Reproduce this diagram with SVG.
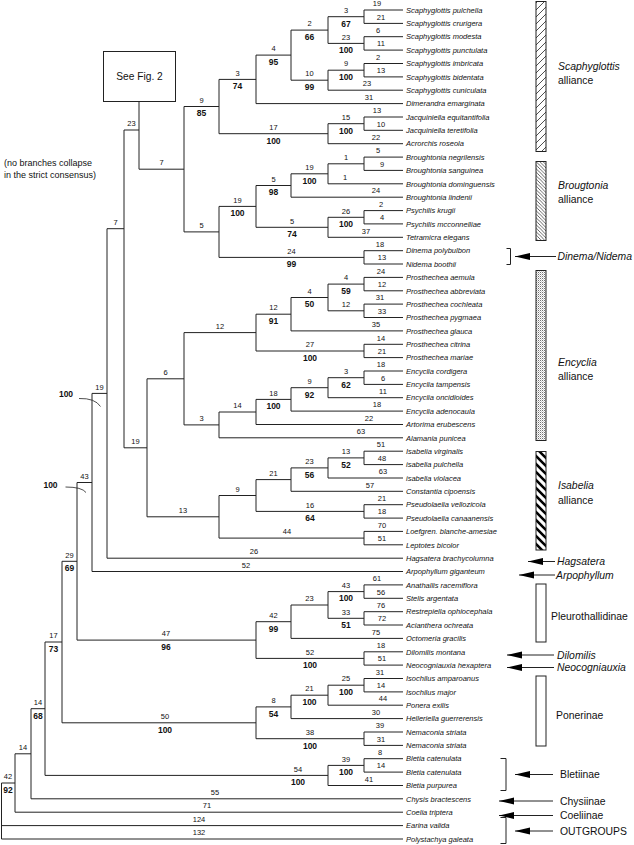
<svg xmlns="http://www.w3.org/2000/svg" width="634" height="845" viewBox="0 0 634 845">
<style>
.br{stroke:#222;stroke-width:1;fill:none}
text{font-family:"Liberation Sans",Arial,sans-serif;fill:#111}
.tx{font-style:italic;font-size:7.5px}
.n{font-size:7.5px;text-anchor:middle}
.b{font-size:8.5px;font-weight:bold;text-anchor:middle}
.r{font-size:10.4px}
.ri{font-size:10.4px;font-style:italic}
.bar{stroke:#222;stroke-width:1}
.ar{stroke:#222;stroke-width:1;fill:none;marker-end:url(#ah)}
</style>
<defs>
<marker id="ah" markerUnits="userSpaceOnUse" markerWidth="16" markerHeight="8" refX="15" refY="3.5" orient="auto"><path d="M0,0L15,3.5L0,7z" fill="#000"/></marker>
<pattern id="pS" patternUnits="userSpaceOnUse" width="7" height="7"><path d="M-1,8L8,-1M-1,1L1,-1M6,8L8,6" stroke="#222" stroke-width="0.8"/></pattern>
<pattern id="pB" patternUnits="userSpaceOnUse" width="3.5" height="3.5"><path d="M-1,-1L4.5,4.5M2.5,-1L4.5,1M-1,2.5L1,4.5" stroke="#222" stroke-width="0.7"/></pattern>
<pattern id="pE" patternUnits="userSpaceOnUse" width="2" height="2"><rect width="2" height="2" fill="#fff"/><circle cx="0.5" cy="0.5" r="0.55" fill="#666"/><circle cx="1.5" cy="1.5" r="0.4" fill="#888"/></pattern>
<pattern id="pI" patternUnits="userSpaceOnUse" width="8" height="8"><path d="M-2,-2L10,10M6,-2L10,2M-2,6L2,10" stroke="#000" stroke-width="2.6"/></pattern>
</defs>
<rect width="634" height="845" fill="#fff"/>

<g id="connectors" class="br">
<path d="M364,10H403M364,23.4H403M364,36.7H403M364,50.1H403M364,63.5H403M364,76.9H403M328,90.2H403M256,103.6H403M364,117H403M364,130.3H403M328,143.7H403
M364,10V23.4M364,36.7V50.1M328,16.7V43.4M364,63.5V76.9M328,70.2V90.2M291,30.1V80.2M256,55.1V103.6M364,117V130.3M328,123.7V143.7M219,79.4V133.7
M328,16.7H364M328,43.4H364M291,30.1H328M328,70.2H364M291,80.2H328M256,55.1H291M219,79.4H256M328,123.7H364M219,133.7H328M184,106.5H219"/>
<path d="M364,157.1H403M364,170.4H403M328,183.8H403M291,197.2H403M364,210.6H403M364,223.9H403M328,237.3H403M364,250.7H403M364,264H403
M364,157.1V170.4M328,163.8V183.8M291,173.8V197.2M364,210.6V223.9M328,217.3V237.3M256,185.5V227.3M364,250.7V264M219,206.4V257.4M184,106.5V231.9
M328,163.8H364M291,173.8H328M256,185.5H291M328,217.3H364M256,227.3H328M219,206.4H256M219,257.4H364M184,231.9H219M139,169.2H184"/>
<path d="M139,101.3V169.2M124,130H139"/>
<path d="M364,277.4H403M364,290.8H403M364,304.1H403M364,317.5H403M291,330.9H403M364,344.3H403M364,357.6H403
M364,277.4V290.8M364,304.1V317.5M328,284.1V310.8M291,297.5V330.9M364,344.3V357.6M256,314.2V351
M328,284.1H364M328,310.8H364M291,297.5H328M256,314.2H291M256,351H364M184,332.6H256"/>
<path d="M364,371H403M364,384.4H403M328,397.7H403M291,411.1H403M256,424.5H403M219,437.8H403
M364,371V384.4M328,377.7V397.7M291,387.7V411.1M256,399.4V424.5M219,412V437.8M184,332.6V424.9
M328,377.7H364M291,387.7H328M256,399.4H291M219,412H256M184,424.9H219M147,378.8H184"/>
<path d="M364,451.2H403M364,464.6H403M328,478H403M291,491.3H403M364,504.7H403M364,518.1H403M364,531.4H403M364,544.8H403
M364,451.2V464.6M328,457.9V478M291,467.9V491.3M364,504.7V518.1M256,479.6V511.4M364,531.4V544.8M219,495.5V538.1M147,378.8V516.8
M328,457.9H364M291,467.9H328M256,479.6H291M256,511.4H364M219,495.5H256M219,538.1H364M147,516.8H219M124,447.8H147"/>
<path d="M124,130V447.8M107,228.7H124M107,228.7V558.2M107,558.2H403M92,393.4H107M92,393.4V571.5M92,571.5H403M77,482.5H92M77,482.5V640.1M77,640.1H256"/>
<path d="M364,584.9H403M364,598.3H403M364,611.7H403M364,625H403M291,638.4H403M364,651.8H403M364,665.1H403
M364,584.9V598.3M364,611.7V625M328,591.6V618.3M291,605V638.4M364,651.8V665.1M256,621.7V658.4
M328,591.6H364M328,618.3H364M291,605H328M256,621.7H291M256,658.4H364"/>
<path d="M62,561.3H77M62,561.3V722.8M62,722.8H256"/>
<path d="M364,678.5H403M364,691.9H403M328,705.2H403M291,718.6H403M364,732H403M364,745.4H403
M364,678.5V691.9M328,685.2V705.2M291,695.2V718.6M364,732V745.4M256,706.9V738.7
M328,685.2H364M291,695.2H328M256,706.9H291M256,738.7H364"/>
<path d="M45,642H62M45,642V775.4M45,775.4H328M364,758.7H403M364,772.1H403M328,785.5H403M364,758.7V772.1M328,765.4V785.5M328,765.4H364"/>
<path d="M31,708.7H45M31,708.7V798.8M31,798.8H403M15,753.8H31M15,753.8V812.2M15,812.2H403M1.5,783H15M1.5,783V839M1.5,825.6H403M1.5,839H403"/>
<path d="M79,398.5Q95,398 100.5,406.5M65.5,487Q82,487 86,492.5" stroke-width="0.8"/>
</g>

<g id="seefig2">
<rect x="103.5" y="51.5" width="72" height="50" fill="#fff" stroke="#222" stroke-width="1"/>
<text x="139.5" y="80.3" font-size="10.2" text-anchor="middle">See Fig. 2</text>
</g>
<g id="note">
<text x="4" y="166" font-size="9">(no branches collapse</text>
<text x="4" y="177.5" font-size="9">in the strict consensus)</text>
</g>

<g id="branch-labels">
<g class="n">
<text x="377" y="6.2">19</text><text x="381" y="19.6">21</text><text x="378" y="32.9">6</text><text x="381" y="46.3">11</text>
<text x="378" y="59.7">2</text><text x="381" y="73.1">13</text><text x="367" y="86.4">23</text><text x="369" y="99.8">31</text>
<text x="377" y="113.2">13</text><text x="381" y="126.5">10</text><text x="376" y="139.9">22</text><text x="378" y="153.3">5</text>
<text x="382" y="166.6">9</text><text x="345" y="180">1</text><text x="376" y="193.4">24</text><text x="381" y="206.8">2</text>
<text x="382" y="220.1">4</text><text x="366" y="233.5">37</text><text x="380" y="246.9">18</text><text x="382" y="260.2">13</text>
<text x="381" y="273.6">24</text><text x="382" y="287">12</text><text x="380" y="300.3">31</text><text x="382" y="313.7">33</text>
<text x="376" y="327.1">35</text><text x="381" y="340.5">14</text><text x="382" y="353.8">21</text><text x="381" y="367.2">18</text>
<text x="383" y="380.6">6</text><text x="383" y="393.9">11</text><text x="377" y="407.3">18</text><text x="369" y="420.7">22</text>
<text x="361" y="434">63</text><text x="381" y="447.4">51</text><text x="382" y="460.8">48</text><text x="383" y="474.2">63</text>
<text x="370" y="487.5">57</text><text x="382" y="500.9">21</text><text x="382" y="514.3">18</text><text x="382" y="527.6">70</text>
<text x="382" y="541">51</text><text x="254" y="554.4">26</text><text x="246" y="567.7">52</text><text x="377" y="581.1">61</text>
<text x="381" y="594.5">56</text><text x="381" y="607.9">76</text><text x="382" y="621.2">72</text><text x="376" y="634.6">75</text>
<text x="381" y="648">18</text><text x="382" y="661.3">51</text><text x="380" y="674.7">31</text><text x="381" y="688.1">14</text>
<text x="383" y="701.4">44</text><text x="376" y="714.8">30</text><text x="380" y="728.2">39</text><text x="381" y="741.6">31</text>
<text x="380" y="754.9">8</text><text x="381" y="768.3">14</text><text x="369" y="781.7">41</text><text x="215" y="795">55</text>
<text x="207" y="808.4">71</text><text x="199" y="821.8">124</text><text x="199" y="835.2">132</text>
<text x="346" y="12.9">3</text><text x="346" y="39.6">23</text><text x="309.5" y="26.3">2</text><text x="346" y="66.4">9</text>
<text x="309.5" y="76.4">10</text><text x="273.5" y="51.3">4</text><text x="237.5" y="75.6">3</text><text x="346" y="119.9">15</text>
<text x="273.5" y="129.9">17</text><text x="201.5" y="102.7">9</text><text x="346" y="160">1</text><text x="309.5" y="170">19</text>
<text x="273.5" y="181.7">5</text><text x="346" y="213.5">26</text><text x="292" y="223.5">5</text><text x="237.5" y="202.6">19</text>
<text x="291.5" y="253.6">24</text><text x="201.5" y="228.1">5</text><text x="161.5" y="165.4">7</text><text x="131.5" y="126.2">23</text>
<text x="346" y="280.3">4</text><text x="346" y="307">12</text><text x="309.5" y="293.7">4</text><text x="273.5" y="310.4">12</text>
<text x="310" y="347.2">27</text><text x="220" y="328.8">12</text><text x="346" y="373.9">3</text><text x="309.5" y="383.9">9</text>
<text x="273.5" y="395.6">18</text><text x="237.5" y="408.2">14</text><text x="201.5" y="421.1">3</text><text x="165.5" y="375">6</text>
<text x="346" y="454.1">13</text><text x="309.5" y="464.1">23</text><text x="273.5" y="475.8">21</text><text x="310" y="507.6">16</text>
<text x="237.5" y="491.7">9</text><text x="287" y="534.3">44</text><text x="183" y="513">13</text><text x="135.5" y="444">19</text>
<text x="115.5" y="224.9">7</text><text x="99.5" y="389.6">19</text><text x="84.5" y="478.7">43</text>
<text x="346" y="587.8">43</text><text x="346" y="614.5">33</text><text x="309.5" y="601.2">23</text><text x="273.5" y="617.9">42</text>
<text x="310" y="654.6">52</text><text x="166" y="636.3">47</text><text x="69.5" y="557.5">29</text><text x="346" y="681.4">25</text>
<text x="309.5" y="691.4">21</text><text x="273.5" y="703.1">8</text><text x="310" y="734.9">38</text><text x="165" y="719">50</text>
<text x="53.5" y="638.2">17</text><text x="346" y="761.6">39</text><text x="298" y="771.6">54</text><text x="38" y="704.9">14</text>
<text x="23" y="750">14</text><text x="8" y="779.2">42</text>
</g>
<g class="b">
<text x="346" y="26.5">67</text><text x="346" y="53.2">100</text><text x="309.5" y="39.9">66</text><text x="346" y="80">100</text>
<text x="309.5" y="90">99</text><text x="273.5" y="64.9">95</text><text x="237.5" y="89.2">74</text><text x="346" y="133.5">100</text>
<text x="273.5" y="143.5">100</text><text x="201.5" y="116.3">85</text><text x="309.5" y="183.6">100</text><text x="273.5" y="195.3">98</text>
<text x="346" y="227.1">100</text><text x="292" y="237.1">74</text><text x="237.5" y="216.2">100</text><text x="291.5" y="267.2">99</text>
<text x="346" y="293.9">59</text><text x="309.5" y="307.3">50</text><text x="273.5" y="324">91</text><text x="310" y="360.8">100</text>
<text x="346" y="387.5">62</text><text x="309.5" y="397.5">92</text><text x="273.5" y="409.2">100</text>
<text x="346" y="467.7">52</text><text x="309.5" y="477.7">56</text><text x="310" y="521.2">64</text>
<text x="346" y="601.4">100</text><text x="346" y="628.1">51</text><text x="273.5" y="631.5">99</text><text x="310" y="668.2">100</text>
<text x="166" y="649.9">96</text><text x="69.5" y="571.1">69</text><text x="346" y="695">100</text><text x="309.5" y="705">100</text>
<text x="273.5" y="716.7">54</text><text x="310" y="748.5">100</text><text x="165" y="732.6">100</text><text x="53.5" y="651.8">73</text>
<text x="346" y="775.2">100</text><text x="298" y="785.2">100</text><text x="38" y="718.5">68</text><text x="8" y="792.8">92</text>
<text x="66" y="397">100</text><text x="50.5" y="488">100</text>
</g>
</g>

<g id="taxa" class="tx">
<g id="t00"><text x="406" y="12.7">Scaphyglottis pulchella</text></g>
<g id="t01"><text x="406" y="26.1">Scaphyglottis crurigera</text></g>
<g id="t02"><text x="406" y="39.4">Scaphyglottis modesta</text></g>
<g id="t03"><text x="406" y="52.8">Scaphyglottis punctulata</text></g>
<g id="t04"><text x="406" y="66.2">Scaphyglottis imbricata</text></g>
<g id="t05"><text x="406" y="79.6">Scaphyglottis bidentata</text></g>
<g id="t06"><text x="406" y="92.9">Scaphyglottis cuniculata</text></g>
<g id="t07"><text x="406" y="106.3">Dimerandra emarginata</text></g>
<g id="t08"><text x="406" y="119.7">Jacquiniella equitantifolia</text></g>
<g id="t09"><text x="406" y="133">Jacquiniella teretifolia</text></g>
<g id="t10"><text x="406" y="146.4">Acrorchis roseola</text></g>
<g id="t11"><text x="406" y="159.8">Broughtonia negrilensis</text></g>
<g id="t12"><text x="406" y="173.1">Broughtonia sanguinea</text></g>
<g id="t13"><text x="406" y="186.5">Broughtonia dominguensis</text></g>
<g id="t14"><text x="406" y="199.9">Broughtonia lindenii</text></g>
<g id="t15"><text x="406" y="213.3">Psychilis krugii</text></g>
<g id="t16"><text x="406" y="226.6">Psychilis mcconnelliae</text></g>
<g id="t17"><text x="406" y="240">Tetramicra elegans</text></g>
<g id="t18"><text x="406" y="253.4">Dinema polybulbon</text></g>
<g id="t19"><text x="406" y="266.7">Nidema boothii</text></g>
<g id="t20"><text x="406" y="280.1">Prosthechea aemula</text></g>
<g id="t21"><text x="406" y="293.5">Prosthechea abbreviata</text></g>
<g id="t22"><text x="406" y="306.8">Prosthechea cochleata</text></g>
<g id="t23"><text x="406" y="320.2">Prosthechea pygmaea</text></g>
<g id="t24"><text x="406" y="333.6">Prosthechea glauca</text></g>
<g id="t25"><text x="406" y="347">Prosthechea citrina</text></g>
<g id="t26"><text x="406" y="360.3">Prosthechea mariae</text></g>
<g id="t27"><text x="406" y="373.7">Encyclia cordigera</text></g>
<g id="t28"><text x="406" y="387.1">Encyclia tampensis</text></g>
<g id="t29"><text x="406" y="400.4">Encyclia oncidioides</text></g>
<g id="t30"><text x="406" y="413.8">Encyclia adenocaula</text></g>
<g id="t31"><text x="406" y="427.2">Artorima erubescens</text></g>
<g id="t32"><text x="406" y="440.5">Alamania punicea</text></g>
<g id="t33"><text x="406" y="453.9">Isabelia virginalis</text></g>
<g id="t34"><text x="406" y="467.3">isabelia pulchella</text></g>
<g id="t35"><text x="406" y="480.7">isabelia violacea</text></g>
<g id="t36"><text x="406" y="494">Constantia cipoensis</text></g>
<g id="t37"><text x="406" y="507.4">Pseudolaelia vellozicola</text></g>
<g id="t38"><text x="406" y="520.8">Pseudolaelia canaanensis</text></g>
<g id="t39"><text x="406" y="534.1">Loefgren. blanche-amesiae</text></g>
<g id="t40"><text x="406" y="547.5">Leptotes bicolor</text></g>
<g id="t41"><text x="406" y="560.9">Hagsatera brachycolumna</text></g>
<g id="t42"><text x="406" y="574.2">Arpophyllum giganteum</text></g>
<g id="t43"><text x="406" y="587.6">Anathallis racemiflora</text></g>
<g id="t44"><text x="406" y="601">Stelis argentata</text></g>
<g id="t45"><text x="406" y="614.4">Restrepiella ophiocephala</text></g>
<g id="t46"><text x="406" y="627.7">Acianthera ochreata</text></g>
<g id="t47"><text x="406" y="641.1">Octomeria gracilis</text></g>
<g id="t48"><text x="406" y="654.5">Dilomilis montana</text></g>
<g id="t49"><text x="406" y="667.8">Neocogniauxia hexaptera</text></g>
<g id="t50"><text x="406" y="681.2">Isochilus amparoanus</text></g>
<g id="t51"><text x="406" y="694.6">Isochilus major</text></g>
<g id="t52"><text x="406" y="707.9">Ponera exilis</text></g>
<g id="t53"><text x="406" y="721.3">Helleriella guerrerensis</text></g>
<g id="t54"><text x="406" y="734.7">Nemaconia striata</text></g>
<g id="t55"><text x="406" y="748.1">Nemaconia striata</text></g>
<g id="t56"><text x="406" y="761.4">Bletia catenulata</text></g>
<g id="t57"><text x="406" y="774.8">Bletia catenulata</text></g>
<g id="t58"><text x="406" y="788.2">Bletia purpurea</text></g>
<g id="t59"><text x="406" y="801.5">Chysis bractescens</text></g>
<g id="t60"><text x="406" y="814.9">Coelia triptera</text></g>
<g id="t61"><text x="406" y="828.3">Earina valida</text></g>
<g id="t62"><text x="406" y="841.6">Polystachya galeata</text></g>
</g>

<g id="grp-scaphyglottis">
<rect class="bar" x="536" y="1.5" width="10" height="150" fill="url(#pS)"/>
<text class="ri" x="558" y="70.4">Scaphyglottis</text><text class="r" x="558" y="84">alliance</text>
</g>
<g id="grp-brougtonia">
<rect class="bar" x="536" y="161.5" width="10" height="79" fill="url(#pB)"/>
<text class="ri" x="558" y="188.7">Brougtonia</text><text class="r" x="558" y="202.7">alliance</text>
</g>
<g id="grp-dinema">
<path class="br" d="M506.5,248.5H510.5V264.5H506.5"/>
<path class="ar" d="M556,256.5H515"/>
<text class="ri" x="557.5" y="260.2">Dinema/Nidema</text>
</g>
<g id="grp-encyclia">
<rect class="bar" x="536" y="270.5" width="10" height="170" fill="url(#pE)"/>
<text class="ri" x="558" y="366.4">Encyclia</text><text class="r" x="558" y="380.4">alliance</text>
</g>
<g id="grp-isabelia">
<rect class="bar" x="536" y="451.5" width="10" height="98.5" fill="url(#pI)"/>
<text class="ri" x="558" y="489.4">Isabelia</text><text class="r" x="558" y="503.7">alliance</text>
</g>
<g id="grp-hagsatera">
<path class="ar" d="M555,561.5H528"/>
<text class="ri" x="557" y="565.2">Hagsatera</text>
</g>
<g id="grp-arpophyllum">
<path class="ar" d="M555,575H519"/>
<text class="ri" x="556" y="578.7">Arpophyllum</text>
</g>
<g id="grp-pleurothallidinae">
<rect class="bar" x="536" y="584" width="10" height="58" fill="#fff"/>
<text class="r" x="551" y="620.4">Pleurothallidinae</text>
</g>
<g id="grp-dilomilis">
<path class="ar" d="M554,655H507"/>
<text class="ri" x="557" y="658.7">Dilomilis</text>
</g>
<g id="grp-neocogniauxia">
<path class="ar" d="M554,667.5H507"/>
<text class="ri" x="557" y="671.2">Neocogniauxia</text>
</g>
<g id="grp-ponerinae">
<rect class="bar" x="536" y="676" width="10" height="70" fill="#fff"/>
<text class="r" x="556" y="718.7">Ponerinae</text>
</g>
<g id="grp-bletiinae">
<path class="br" d="M500.5,758.5H506V790.5H500.5"/>
<path class="ar" d="M553,774.5H515"/>
<text class="r" x="560" y="778.2">Bletiinae</text>
</g>
<g id="grp-chysiinae">
<path class="ar" d="M553,801H499"/>
<text class="r" x="560" y="804.7">Chysiinae</text>
</g>
<g id="grp-coeliinae">
<path class="ar" d="M553,815.5H499"/>
<text class="r" x="560" y="819.2">Coeliinae</text>
</g>
<g id="grp-outgroups">
<path class="br" d="M500.5,817.5H506V843.5H500.5"/>
<path class="ar" d="M553,831H515"/>
<text class="r" x="560" y="834.7">OUTGROUPS</text>
</g>
</svg>
